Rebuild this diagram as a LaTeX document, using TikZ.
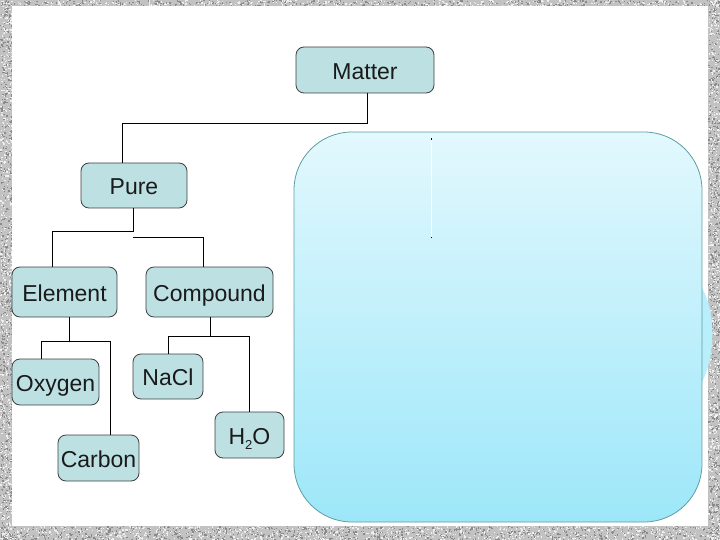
\documentclass[tikz,border=0pt]{standalone}
\usepackage{fontspec}
\setmainfont{Liberation Sans}
\definecolor{nodefill}{HTML}{BDE0E3}
\definecolor{nodeline}{HTML}{404040}
\definecolor{boxtop}{HTML}{E2F8FD}
\definecolor{boxbot}{HTML}{9DE7F9}
\definecolor{boxline}{HTML}{5F9EA0}
\definecolor{bordbase}{HTML}{C2C2C2}
\definecolor{borddark}{HTML}{8A8A8A}
\definecolor{bordlight}{HTML}{EFEFEF}
\definecolor{txt}{HTML}{1A1A1A}
\tikzset{
  concept/.style={draw=nodeline, line width=0.8pt, fill=nodefill, rounded corners=8pt,
    inner sep=0pt, text=txt, font=\fontsize{23}{27}\selectfont,
    text height=18.5pt, text depth=0pt},
  link/.style={draw=black, line width=0.9pt},
  dotd/.style={fill=borddark},
  dotl/.style={fill=bordlight}
}
\begin{document}
\begin{tikzpicture}[x=1pt,y=-1pt]
\useasboundingbox (0,0) rectangle (720,540);
% textured border
\fill[bordbase] (0,0) rectangle (720,540);
\pgfmathsetseed{7}
\foreach \i in {1,...,900}{
  \pgfmathsetmacro\xx{rnd*720}\pgfmathsetmacro\yy{526+rnd*14}
  \fill[dotd] (\xx,\yy) rectangle ++(1.3,1.3);
  \pgfmathsetmacro\xa{rnd*720}\pgfmathsetmacro\ya{526+rnd*14}
  \fill[dotl] (\xa,\ya) rectangle ++(1.3,1.3);
}
\foreach \i in {1,...,400}{
  \pgfmathsetmacro\xx{rnd*720}\pgfmathsetmacro\yy{rnd*6}
  \fill[dotd] (\xx,\yy) rectangle ++(1.3,1.3);
  \pgfmathsetmacro\xa{rnd*720}\pgfmathsetmacro\ya{rnd*6}
  \fill[dotl] (\xa,\ya) rectangle ++(1.3,1.3);
}
\foreach \i in {1,...,600}{
  \pgfmathsetmacro\xx{rnd*12}\pgfmathsetmacro\yy{rnd*540}
  \fill[dotd] (\xx,\yy) rectangle ++(1.3,1.3);
  \pgfmathsetmacro\xa{rnd*12}\pgfmathsetmacro\ya{rnd*540}
  \fill[dotl] (\xa,\ya) rectangle ++(1.3,1.3);
  \pgfmathsetmacro\xb{708+rnd*12}\pgfmathsetmacro\yb{rnd*540}
  \fill[dotd] (\xb,\yb) rectangle ++(1.3,1.3);
  \pgfmathsetmacro\xc{708+rnd*12}\pgfmathsetmacro\yc{rnd*540}
  \fill[dotl] (\xc,\yc) rectangle ++(1.3,1.3);
}
% white slide area
\fill[white] (12,6) rectangle (708,526);
% partially hidden bulge at right edge
\fill[boxtop!40!boxbot] (702,288) .. controls (716,312) and (716,355) .. (702,382) -- cycle;
% big rounded panel
\draw[boxline, line width=0.8pt, top color=boxtop, bottom color=boxbot, rounded corners=58pt]
  (294,132) rectangle (702,522);
% white line inside panel
\draw[white, line width=1pt] (431,139) -- (431,237);
\fill[black] (430.5,138.5) rectangle ++(1.2,1.2);
\fill[black] (430.5,236.5) rectangle ++(1.2,1.2);

% nodes
\node[concept, minimum width=138pt, minimum height=46pt] (matter) at (365,70) {Matter};
\node[concept, minimum width=106pt, minimum height=45pt] (pure) at (134,185.5) {Pure};
\node[concept, minimum width=105pt, minimum height=50pt] (element) at (64.5,292) {Element};
\node[concept, minimum width=127pt, minimum height=50pt] (compound) at (209.5,292) {Compound};
\node[concept, minimum width=87pt, minimum height=46pt] (oxygen) at (55.5,382) {Oxygen};
\node[concept, minimum width=81pt, minimum height=46pt] (carbon) at (98.5,458) {Carbon};
\node[concept, minimum width=70pt, minimum height=45pt] (nacl) at (168,376.5) {NaCl};
\node[concept, minimum width=69pt, minimum height=46pt] (water) at (249.5,435)
  {H\raisebox{-0.4ex}{\fontsize{13}{13}\selectfont 2}O};

% connector junctions
\coordinate (mj) at (367,123);
\coordinate (pj) at (122,123);
\coordinate (pa) at (133,231);
\coordinate (pl) at (52,231);
\coordinate (pb) at (133,237);
\coordinate (pr) at (203,237);
\coordinate (ej) at (69,341);
\coordinate (el) at (41,341);
\coordinate (er) at (110,341);
\coordinate (cj) at (210,336);
\coordinate (cl) at (168,336);
\coordinate (cr) at (249,336);

% connectors
\draw[link] (matter.south -| mj) -- (mj) -- (pj) -- (pure.north -| pj);
\draw[link] (pure.south -| pa) -- (pa) -- (pl) -- (element.north -| pl);
\draw[link] (pb) -- (pr) -- (compound.north -| pr);
\draw[link] (element.south -| ej) -- (ej);
\draw[link] (oxygen.north -| el) -- (el) -- (er) -- (carbon.north -| er);
\draw[link] (compound.south -| cj) -- (cj);
\draw[link] (nacl.north -| cl) -- (cl) -- (cr) -- (water.north -| cr);
\end{tikzpicture}
\end{document}
